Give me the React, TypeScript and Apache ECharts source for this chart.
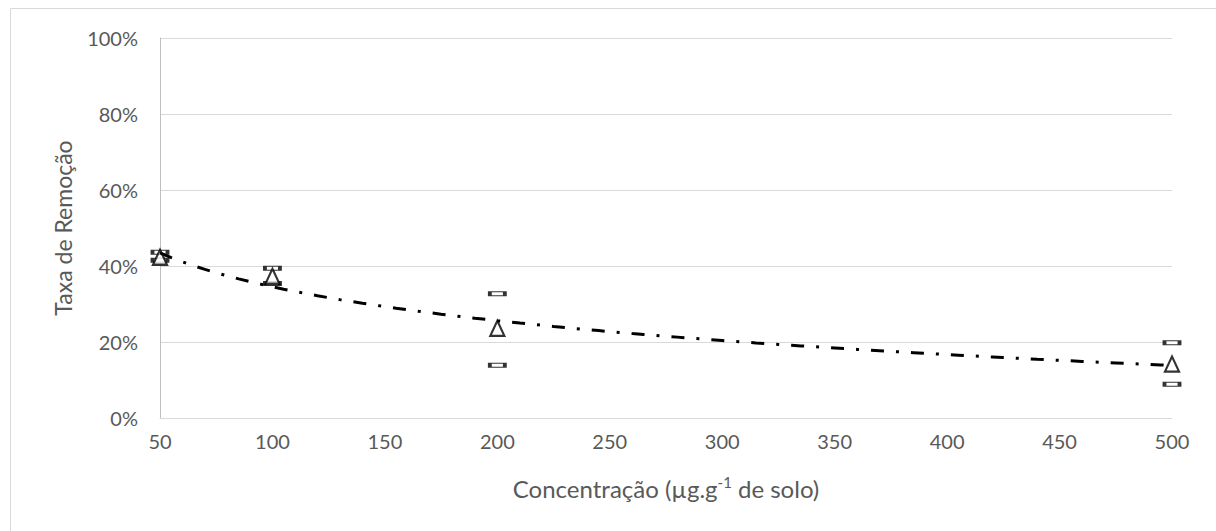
import React, { useEffect, useRef } from "react";
import * as echarts from "echarts";

// Data
const concentrations = [50, 100, 200, 500]; // µg.g-1 de solo
const removalRate = [42.3, 37.3, 23.6, 14.2]; // %
const errorUpper = [43.6, 39.4, 32.7, 19.8]; // %
const errorLower = [41.5, 35.4, 13.9, 8.9]; // %
const xTicks = { min: 50, max: 500, interval: 50 };
const yTicks = { min: 0, max: 100, interval: 20 };

// Logarithmic trendline (least squares on ln x), as in the spreadsheet
function logTrend(xs: number[], ys: number[]) {
  const lx = xs.map((x) => Math.log(x));
  const mx = lx.reduce((a, b) => a + b, 0) / lx.length;
  const my = ys.reduce((a, b) => a + b, 0) / ys.length;
  let sxy = 0;
  let sxx = 0;
  lx.forEach((v, i) => {
    sxy += (v - mx) * (ys[i] - my);
    sxx += (v - mx) * (v - mx);
  });
  const b = sxy / sxx;
  const a = my - b * mx;
  return (x: number) => a + b * Math.log(x);
}

export default function App() {
  const ref = useRef<HTMLDivElement>(null);

  useEffect(() => {
    if (!ref.current) return;
    const chart = echarts.init(ref.current, undefined, { renderer: "svg" });
    const f = logTrend(concentrations, removalRate);
    const trendData: number[][] = [];
    for (let x = concentrations[0]; x <= concentrations[concentrations.length - 1]; x += 5) {
      trendData.push([x, f(x)]);
    }
    const font = "Lato, 'Open Sans', sans-serif";
    const txt = "#595959";

    chart.setOption({
      animation: false,
      backgroundColor: "#ffffff",
      textStyle: { fontFamily: font },
      graphic: [
        {
          type: "rect",
          shape: { x: 10.5, y: 8.5, width: 1240, height: 560 },
          style: { fill: "none", stroke: "#d9d9d9", lineWidth: 1 },
          silent: true,
          z: -10,
        },
      ],
      grid: { left: 160, right: 44, top: 38, bottom: 113 },
      xAxis: {
        type: "value",
        min: xTicks.min,
        max: xTicks.max,
        interval: xTicks.interval,
        name: "{a|Concentração (µg.g}{s|-1}{a| de solo)}",
        nameLocation: "middle",
        nameGap: 56,
        nameTextStyle: {
          rich: {
            a: { fontFamily: font, fontSize: 24, color: txt, lineHeight: 28 },
            s: { fontFamily: font, fontSize: 15, color: txt, verticalAlign: "top", lineHeight: 18 },
          },
        },
        axisLine: { show: true, lineStyle: { color: "#d9d9d9", width: 1 } },
        axisTick: { show: false },
        splitLine: { show: false },
        axisLabel: { color: txt, fontSize: 20, fontFamily: font, margin: 13 },
      },
      yAxis: {
        type: "value",
        min: yTicks.min,
        max: yTicks.max,
        interval: yTicks.interval,
        name: "Taxa de Remoção",
        nameLocation: "middle",
        nameGap: 86,
        nameTextStyle: { color: txt, fontSize: 23, fontFamily: font },
        axisLine: { show: true, lineStyle: { color: "#bfbfbf", width: 1 } },
        axisTick: { show: false },
        splitLine: { show: true, lineStyle: { color: "#d9d9d9", width: 1 } },
        axisLabel: { color: txt, fontSize: 20, fontFamily: font, margin: 22, formatter: "{value}%" },
      },
      series: [
        {
          name: "Erro superior",
          type: "scatter",
          data: concentrations.map((x, i) => [x, errorUpper[i]]),
          symbol: "rect",
          symbolSize: [15, 4],
          itemStyle: { color: "#ffffff", borderColor: "#000000", borderWidth: 2 },
          z: 2,
        },
        {
          name: "Erro inferior",
          type: "scatter",
          data: concentrations.map((x, i) => [x, errorLower[i]]),
          symbol: "rect",
          symbolSize: [15, 4],
          itemStyle: { color: "#ffffff", borderColor: "#000000", borderWidth: 2 },
          z: 2,
        },
        {
          name: "Taxa de Remoção",
          type: "scatter",
          data: concentrations.map((x, i) => [x, removalRate[i]]),
          symbol: "triangle",
          symbolSize: [14, 15],
          itemStyle: { color: "#ffffff", borderColor: "#000000", borderWidth: 2.2 },
          z: 3,
        },
        {
          name: "Tendência (log)",
          type: "line",
          data: trendData,
          showSymbol: false,
          smooth: false,
          lineStyle: { color: "#000000", width: 3, type: [13, 12, 3, 12], cap: "butt" },
          z: 4,
        },
      ],
    });
    return () => chart.dispose();
  }, []);

  return (
    <div
      ref={ref}
      style={{ position: "absolute", left: 0, top: 0, width: 1216, height: 531 }}
    />
  );
}
